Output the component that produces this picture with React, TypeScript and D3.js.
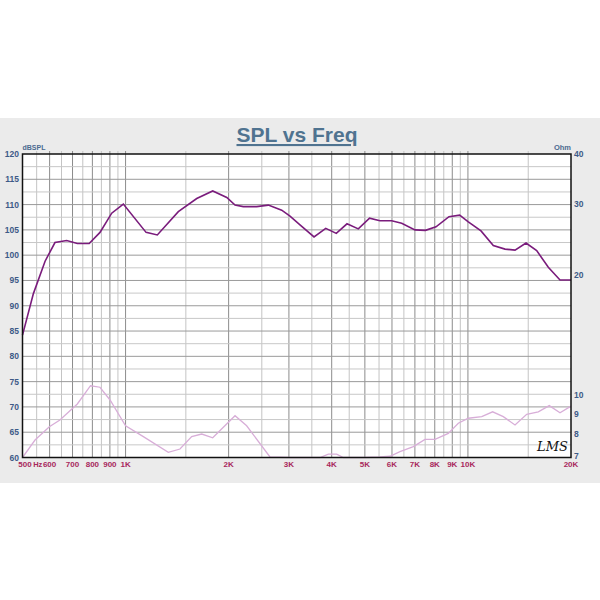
import React, { useEffect, useRef } from 'react';
import * as d3 from 'd3';

// SPL response (Hz, dB)
const splFreq = [500, 538, 582, 622, 673, 723, 783, 842, 911, 985, 1148, 1238, 1426, 1614, 1797, 1975, 2088, 2208, 2415, 2612, 2858, 3022, 3232, 3552, 3843, 4126, 4434, 4784, 5159, 5534, 5988, 6405, 7004, 7516, 8068, 8803, 9460, 10025, 10918, 11860, 12834, 13726, 14780, 15878, 17170, 18575, 20000];
const splDb = [84.2, 92.4, 98.8, 102.5, 102.9, 102.3, 102.3, 104.5, 108.3, 110.1, 104.5, 104.0, 108.6, 111.2, 112.7, 111.4, 109.9, 109.6, 109.6, 109.9, 108.9, 107.7, 106.0, 103.6, 105.3, 104.3, 106.2, 105.2, 107.3, 106.8, 106.8, 106.3, 105.0, 104.9, 105.6, 107.6, 107.9, 106.6, 104.8, 101.9, 101.2, 101.0, 102.4, 100.9, 97.6, 95.1, 95.1];

// impedance (Hz, Ohm)
const impFreq = [500, 544, 599, 643, 723, 790, 842, 901, 1000, 1127, 1333, 1442, 1560, 1669, 1797, 2088, 2258, 2642, 3000, 3698, 3911, 4137, 4325, 5000, 5534, 5920, 6331, 6927, 7492, 8014, 8762, 9373, 10025, 10972, 11808, 12684, 13726, 14846, 16053, 17280, 18575, 20000];
const impOhm = [7.0, 7.74, 8.35, 8.68, 9.52, 10.57, 10.48, 9.74, 8.4, 7.89, 7.21, 7.35, 7.89, 8.01, 7.84, 8.9, 8.4, 7.02, 7.0, 7.0, 7.14, 7.14, 7.0, 7.0, 7.02, 7.05, 7.24, 7.45, 7.77, 7.77, 8.04, 8.52, 8.77, 8.85, 9.1, 8.85, 8.44, 8.97, 9.1, 9.43, 9.05, 9.4];

const dbTicks = [60, 65, 70, 75, 80, 85, 90, 95, 100, 105, 110, 115, 120];
const ohmTicks = [7, 8, 9, 10, 20, 30, 40];
const freqTicks = [500, 600, 700, 800, 900, 1000, 2000, 3000, 4000, 5000, 6000, 7000, 8000, 9000, 10000, 20000];
const freqTickLabels = ['500', '600', '700', '800', '900', '1K', '2K', '3K', '4K', '5K', '6K', '7K', '8K', '9K', '10K', '20K'];

const App = () => {
  const svgRef = useRef<SVGSVGElement>(null);

  useEffect(() => {
    const width = 600;
    const height = 600;
    const plot = { left: 22.5, right: 571, top: 154, bottom: 457.5 };
    const font = '"Liberation Sans", Arial, sans-serif';

    const svg = d3.select(svgRef.current);
    svg.selectAll('*').remove();
    svg.attr('width', width).attr('height', height);

    svg.append('rect').attr('width', width).attr('height', height).attr('fill', '#fff');
    svg.append('rect').attr('x', 0).attr('y', 118).attr('width', width).attr('height', 365).attr('fill', '#ebebeb');

    const x = d3.scaleLog().domain([500, 20000]).range([plot.left, plot.right]);
    const y = d3.scaleLinear().domain([60, 120]).range([plot.bottom, plot.top]);
    const yOhm = d3.scaleLog().domain([7, 40]).range([plot.bottom, plot.top]);

    // plot background
    svg.append('rect')
      .attr('x', plot.left).attr('y', plot.top)
      .attr('width', plot.right - plot.left).attr('height', plot.bottom - plot.top)
      .attr('fill', '#fff');

    // vertical grid
    const gridFreqs: number[] = [];
    for (let f = 550; f < 1000; f += 50) gridFreqs.push(f);
    for (let f = 1000; f <= 10000; f += 500) gridFreqs.push(f);
    gridFreqs.push(15000);
    const isMajorF = (f: number) => (f < 1000 ? f % 100 === 0 : f <= 10000 ? f % 1000 === 0 : f % 10000 === 0);

    svg.append('g').selectAll('line')
      .data(gridFreqs)
      .enter().append('line')
      .attr('x1', d => x(d)).attr('x2', d => x(d))
      .attr('y1', plot.top - 3).attr('y2', plot.bottom)
      .attr('stroke', d => (isMajorF(d) ? '#8c8c8c' : '#c4c4c4'))
      .attr('stroke-width', 1);

    // horizontal grid
    const gridDb = d3.range(62.5, 120, 2.5);
    svg.append('g').selectAll('line')
      .data(gridDb)
      .enter().append('line')
      .attr('x1', plot.left).attr('x2', plot.right)
      .attr('y1', d => y(d)).attr('y2', d => y(d))
      .attr('stroke', d => (d % 5 === 0 ? '#9a9a9a' : '#c8c8c8'))
      .attr('stroke-width', 1);

    // impedance curve
    const impLine = d3.line<number>()
      .x((_, i) => x(impFreq[i]))
      .y(d => yOhm(d));
    svg.append('path')
      .datum(impOhm)
      .attr('d', impLine)
      .attr('fill', 'none')
      .attr('stroke', '#d8aed8')
      .attr('stroke-width', 1.3);

    // SPL curve
    const splLine = d3.line<number>()
      .x((_, i) => x(splFreq[i]))
      .y(d => y(d));
    svg.append('path')
      .datum(splDb)
      .attr('d', splLine)
      .attr('fill', 'none')
      .attr('stroke', '#7a1c7c')
      .attr('stroke-width', 1.6);

    // frame
    svg.append('rect')
      .attr('x', plot.left).attr('y', plot.top)
      .attr('width', plot.right - plot.left).attr('height', plot.bottom - plot.top)
      .attr('fill', 'none')
      .attr('stroke', '#111')
      .attr('stroke-width', 1.5);

    // left axis labels
    svg.append('g').selectAll('text')
      .data(dbTicks)
      .enter().append('text')
      .attr('x', 19).attr('y', d => y(d) + 3)
      .attr('text-anchor', 'end')
      .attr('font-family', font).attr('font-size', 8.5).attr('font-weight', 'bold')
      .attr('fill', '#3d5a87')
      .text(d => d);

    // right axis labels
    svg.append('g').selectAll('text')
      .data(ohmTicks)
      .enter().append('text')
      .attr('x', 574).attr('y', d => yOhm(d) + (d === 7 ? 1.5 : 3))
      .attr('font-family', font).attr('font-size', 8.5).attr('font-weight', 'bold')
      .attr('fill', '#3d5a87')
      .text(d => d);

    // bottom labels
    svg.append('g').selectAll('text')
      .data(freqTicks)
      .enter().append('text')
      .attr('x', d => x(d) + (d === 500 ? 2.5 : 0)).attr('y', 467)
      .attr('text-anchor', 'middle')
      .attr('font-family', font).attr('font-size', 8).attr('font-weight', 'bold')
      .attr('fill', '#a8285c')
      .text((_, i) => freqTickLabels[i]);
    svg.append('text')
      .attr('x', x(554)).attr('y', 467)
      .attr('text-anchor', 'middle')
      .attr('font-family', font).attr('font-size', 7.5).attr('font-weight', 'bold')
      .attr('fill', '#a8285c')
      .text('Hz');

    // unit labels
    svg.append('text')
      .attr('x', plot.left).attr('y', 150)
      .attr('font-family', font).attr('font-size', 7).attr('font-weight', 'bold')
      .attr('fill', '#4a6a90')
      .text('dBSPL');
    svg.append('text')
      .attr('x', plot.right).attr('y', 150)
      .attr('text-anchor', 'end')
      .attr('font-family', font).attr('font-size', 7.5).attr('font-weight', 'bold')
      .attr('fill', '#4a6a90')
      .text('Ohm');

    // title
    svg.append('text')
      .attr('x', 297).attr('y', 142)
      .attr('text-anchor', 'middle')
      .attr('font-family', font).attr('font-size', 21).attr('font-weight', 'bold')
      .attr('fill', '#4f7390')
      .attr('text-decoration', 'underline')
      .text('SPL vs Freq');

    // signature
    svg.append('text')
      .attr('x', 537).attr('y', 451)
      .attr('font-family', '"DejaVu Serif", serif').attr('font-style', 'italic')
      .attr('font-size', 13)
      .attr('fill', '#111')
      .text('LMS');
  }, []);

  return (
    <div style={{ position: 'absolute', left: 0, top: 0 }}>
      <svg ref={svgRef}></svg>
    </div>
  );
};

export default App;
